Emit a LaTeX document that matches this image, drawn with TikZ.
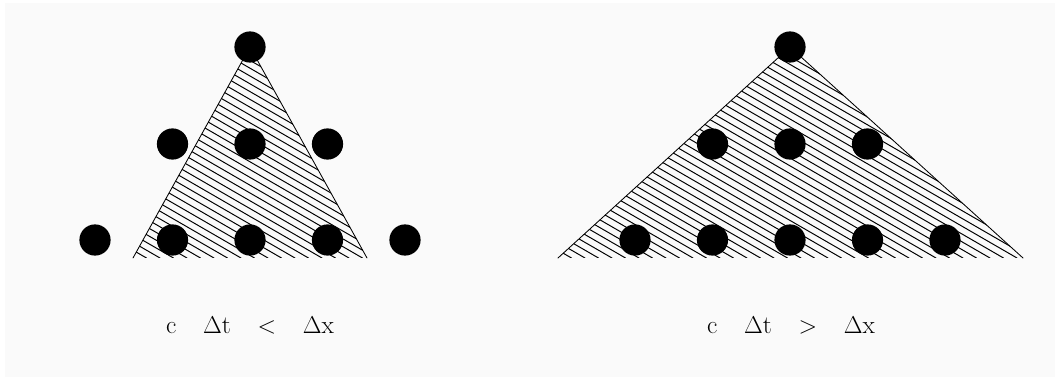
\documentclass[tikz,border=0pt]{standalone}
\usepackage{amsmath}
\usetikzlibrary{arrows.meta}
\definecolor{bgray}{RGB}{250,250,250}

\begin{document}
\begin{tikzpicture}[
	x=0.025cm, y=-0.025cm,
	gridpt/.style={circle, fill=black, inner sep=0pt, minimum size=0.78cm},
	hatch/.style={line width=0.7pt},
	cone/.style={line width=0.6pt},
	every node/.style={font=\fontsize{18}{21}\selectfont},
	line cap=round,
	line join=round
	]
	
	\fill[bgray] (5,3) rectangle (1055,377);
	\useasboundingbox (0,0) rectangle (1055,380);
	
	% Left stencil (narrow cone)
	\coordinate (LA) at (250,47);
	\coordinate (LL) at (133,258);
	\coordinate (LR) at (367,258);
	\begin{scope}
		\clip (LL) -- (LA) -- (LR) -- cycle;
		\foreach \i in {-2,...,40}
		\draw[hatch] (133+13.5*\i,258) -- ++(-450,-260);
	\end{scope}
	\draw[cone] (LL) -- (LA) -- (LR);
	
	\node[gridpt] (ltop) at (250,47) {};
	\foreach \k in {-1,0,1}
	\node[gridpt] (lmid\k) at (250+77.5*\k,144) {};
	\foreach \k in {-2,...,2}
	\node[gridpt] (lbot\k) at (250+77.5*\k,240) {};
	
	\node[anchor=base] (lcond) at (250,333)
	{c\hspace{19pt}$\Delta$t\hspace{19pt}$<$\hspace{19pt}$\Delta$x};
	
	% Right stencil (wide cone)
	\coordinate (RA) at (790,47);
	\coordinate (RL) at (558,258);
	\coordinate (RR) at (1023,258);
	\begin{scope}
		\clip (RL) -- (RA) -- (RR) -- cycle;
		\foreach \i in {-2,...,50}
		\draw[hatch] (558+13.5*\i,258) -- ++(-450,-260);
	\end{scope}
	\draw[cone] (RL) -- (RA) -- (RR);
	
	\node[gridpt] (rtop) at (790,47) {};
	\foreach \k in {-1,0,1}
	\node[gridpt] (rmid\k) at (790+77.5*\k,144) {};
	\foreach \k in {-2,...,2}
	\node[gridpt] (rbot\k) at (790+77.5*\k,240) {};
	
	\node[anchor=base] (rcond) at (791,333)
	{c\hspace{19pt}$\Delta$t\hspace{19pt}$>$\hspace{19pt}$\Delta$x};
	
\end{tikzpicture}
\end{document}
